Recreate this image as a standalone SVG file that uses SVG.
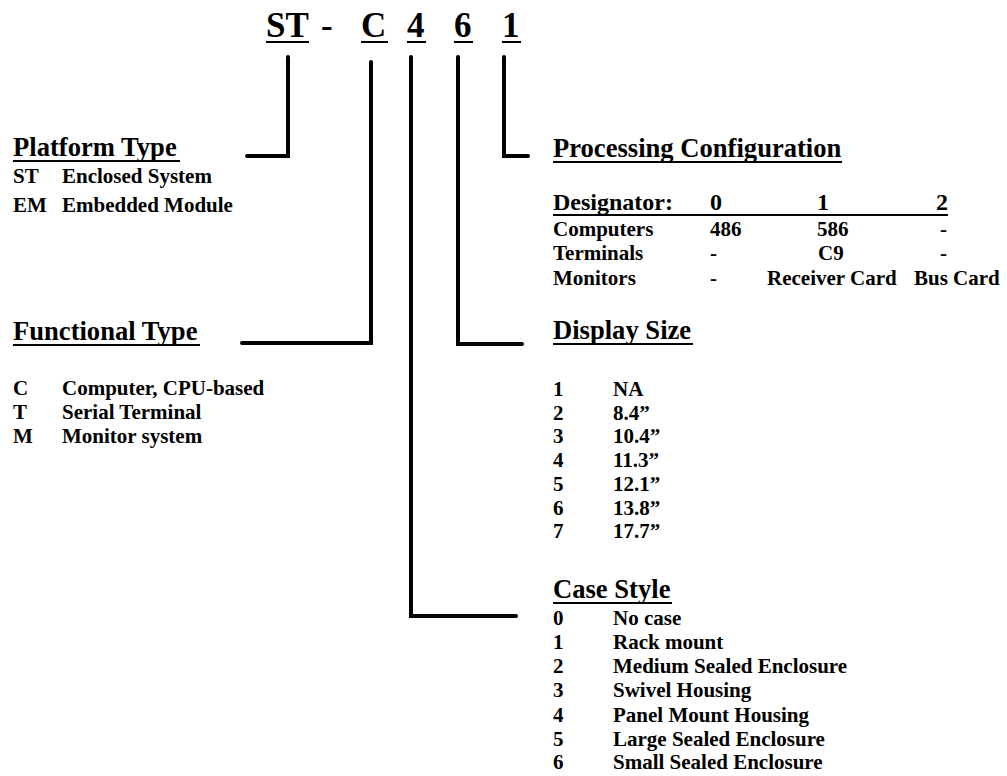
<svg xmlns="http://www.w3.org/2000/svg" width="1007" height="776" viewBox="0 0 1007 776">
<style>
text{font-family:"Liberation Serif","Times New Roman",serif;font-weight:bold;fill:#000}
.t{font-size:35px}
.h{font-size:26.6px}
.d{font-size:24px}
.b{font-size:21px}
.u{stroke:#000;stroke-width:2}
.c{fill:none;stroke:#000;stroke-width:4;stroke-linecap:round;stroke-linejoin:miter}
</style>
<rect width="1007" height="776" fill="#fff"/>
<g id="title">
<text class="t" x="266" y="37">ST</text>
<text class="t" x="321" y="37">-</text>
<text class="t" x="361" y="37">C</text>
<text class="t" x="407" y="37">4</text>
<text class="t" x="454" y="37">6</text>
<text class="t" x="502" y="37">1</text>
<line class="u" x1="266" y1="42" x2="309" y2="42"/>
<line class="u" x1="361" y1="42" x2="388" y2="42"/>
<line class="u" x1="407" y1="42" x2="426" y2="42"/>
<line class="u" x1="454" y1="42" x2="473" y2="42"/>
<line class="u" x1="502" y1="42" x2="521" y2="42"/>
</g>
<g id="connectors">
<path class="c" d="M288,57 V156 H247"/>
<path class="c" d="M371,62 V343 H242"/>
<path class="c" d="M411,57 V616 H516"/>
<path class="c" d="M458,57 V344 H522"/>
<path class="c" d="M504,57 V156 H528"/>
</g>
<g id="platform-type">
<text class="h" x="13" y="156">Platform Type</text>
<line class="u" x1="13" y1="161" x2="180" y2="161"/>
<text class="b" x="13" y="183">ST</text>
<text class="b" x="62" y="183">Enclosed System</text>
<text class="b" x="13" y="212">EM</text>
<text class="b" x="62" y="212">Embedded Module</text>
</g>
<g id="functional-type">
<text class="h" x="13" y="340">Functional Type</text>
<line class="u" x1="13" y1="345" x2="200" y2="345"/>
<text class="b" x="13" y="395">C</text>
<text class="b" x="62" y="395">Computer, CPU-based</text>
<text class="b" x="13" y="419">T</text>
<text class="b" x="62" y="419">Serial Terminal</text>
<text class="b" x="13" y="443">M</text>
<text class="b" x="62" y="443">Monitor system</text>
</g>
<g id="processing-configuration">
<text class="h" x="553" y="157">Processing Configuration</text>
<line class="u" x1="553" y1="162" x2="842" y2="162"/>
<text class="d" x="553" y="210">Designator:</text>
<text class="d" x="710" y="210">0</text>
<text class="d" x="817" y="210">1</text>
<text class="d" x="936" y="210">2</text>
<line class="u" x1="553" y1="215" x2="948" y2="215"/>
<text class="b" x="553" y="236">Computers</text>
<text class="b" x="710" y="236">486</text>
<text class="b" x="817" y="236">586</text>
<text class="b" x="940" y="236">-</text>
<text class="b" x="553" y="260">Terminals</text>
<text class="b" x="710" y="260">-</text>
<text class="b" x="818" y="260">C9</text>
<text class="b" x="940" y="260">-</text>
<text class="b" x="553" y="285">Monitors</text>
<text class="b" x="710" y="285">-</text>
<text class="b" x="767" y="285">Receiver Card</text>
<text class="b" x="914" y="285">Bus Card</text>
</g>
<g id="display-size">
<text class="h" x="553" y="339">Display Size</text>
<line class="u" x1="553" y1="344" x2="693" y2="344"/>
<text class="b" x="553" y="396">1</text><text class="b" x="613" y="396">NA</text>
<text class="b" x="553" y="420">2</text><text class="b" x="613" y="420">8.4”</text>
<text class="b" x="553" y="443">3</text><text class="b" x="613" y="443">10.4”</text>
<text class="b" x="553" y="467">4</text><text class="b" x="613" y="467">11.3”</text>
<text class="b" x="553" y="491">5</text><text class="b" x="613" y="491">12.1”</text>
<text class="b" x="553" y="515">6</text><text class="b" x="613" y="515">13.8”</text>
<text class="b" x="553" y="538">7</text><text class="b" x="613" y="538">17.7”</text>
</g>
<g id="case-style">
<text class="h" x="553" y="598">Case Style</text>
<line class="u" x1="553" y1="603" x2="672" y2="603"/>
<text class="b" x="553" y="625">0</text><text class="b" x="613" y="625">No case</text>
<text class="b" x="553" y="649">1</text><text class="b" x="613" y="649">Rack mount</text>
<text class="b" x="553" y="673">2</text><text class="b" x="613" y="673">Medium Sealed Enclosure</text>
<text class="b" x="553" y="697">3</text><text class="b" x="613" y="697">Swivel Housing</text>
<text class="b" x="553" y="722">4</text><text class="b" x="613" y="722">Panel Mount Housing</text>
<text class="b" x="553" y="746">5</text><text class="b" x="613" y="746">Large Sealed Enclosure</text>
<text class="b" x="553" y="769">6</text><text class="b" x="613" y="769">Small Sealed Enclosure</text>
</g>
</svg>
